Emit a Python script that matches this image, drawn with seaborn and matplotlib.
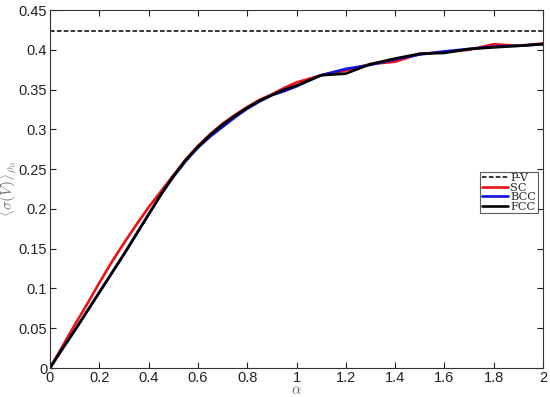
import numpy as np
import pandas as pd
import matplotlib
matplotlib.use("Agg")
import matplotlib.pyplot as plt
import seaborn as sns

alpha = [0.0, 0.05, 0.1, 0.15, 0.2, 0.25, 0.3, 0.35, 0.4, 0.45, 0.5,
         0.55, 0.6, 0.65, 0.7, 0.75, 0.8, 0.85, 0.9, 0.95, 1.0,
         1.1, 1.2, 1.3, 1.4, 1.5, 1.6, 1.7, 1.8, 1.9, 2.0]
sc = [0.0, 0.027, 0.054, 0.080, 0.107, 0.133, 0.157, 0.180, 0.202, 0.222, 0.242,
      0.262, 0.279, 0.294, 0.307, 0.318, 0.328, 0.337, 0.344, 0.352, 0.359,
      0.368, 0.374, 0.382, 0.385, 0.395, 0.397, 0.400, 0.407, 0.405, 0.408]
bcc = [0.0, 0.024, 0.047, 0.071, 0.095, 0.119, 0.143, 0.168, 0.193, 0.218, 0.240,
       0.260, 0.277, 0.291, 0.303, 0.315, 0.326, 0.335, 0.343, 0.348, 0.354,
       0.368, 0.376, 0.381, 0.388, 0.394, 0.398, 0.401, 0.404, 0.405, 0.407]
fcc = [0.0, 0.024, 0.047, 0.071, 0.095, 0.119, 0.143, 0.168, 0.193, 0.218, 0.241,
       0.261, 0.278, 0.293, 0.306, 0.317, 0.327, 0.336, 0.343, 0.350, 0.355,
       0.368, 0.370, 0.382, 0.389, 0.395, 0.396, 0.401, 0.403, 0.405, 0.407]
pv_alpha = [0.0, 2.0]
pv = [0.4236, 0.4236]

sns.set_theme(style="ticks")
plt.rcParams['font.family'] = ['Liberation Sans', 'DejaVu Sans']
plt.rcParams['mathtext.fontset'] = 'cm'

fig = plt.figure(figsize=(5.5, 3.97), dpi=100)
ax = fig.add_axes([50/550, 29/397, 493/550, 358/397])

sns.lineplot(x=pv_alpha, y=pv, ax=ax, color='black', lw=1.1, linestyle=(0, (3, 1.5)), label='P-V')
sns.lineplot(x=alpha, y=sc, ax=ax, color='#ee1111', lw=1.9, label='SC')
sns.lineplot(x=alpha, y=bcc, ax=ax, color='#1111dd', lw=1.9, label='BCC')
sns.lineplot(x=alpha, y=fcc, ax=ax, color='black', lw=1.9, label='FCC')

ax.set_xlim(0, 2)
ax.set_ylim(0, 0.45)
ax.set_xticks(np.arange(0, 2.01, 0.2))
ax.set_xticklabels(['0', '0.2', '0.4', '0.6', '0.8', '1', '1.2', '1.4', '1.6', '1.8', '2'])
ax.set_yticks(np.arange(0, 0.451, 0.05))
ax.set_yticklabels(['0', '0.05', '0.1', '0.15', '0.2', '0.25', '0.3', '0.35', '0.4', '0.45'])
ax.tick_params(direction='in', top=True, right=True, length=4, width=0.8,
               labelsize=10.5, colors='#222222', pad=2)
for s in ax.spines.values():
    s.set_linewidth(0.8)
    s.set_color('#333333')
    s.set_visible(True)

ax.set_xlabel(r'$\alpha$', fontsize=10.5, color='#666666', labelpad=-1)
ax.set_ylabel(r'$\langle\sigma(V)\rangle_{\rho_0}$', fontsize=11, color='#777777')
ax.yaxis.set_label_coords(-0.062, 0.5)

leg = ax.legend(loc='center right', bbox_to_anchor=(0.99, 0.49), frameon=True, fancybox=False,
                prop={'family': 'DejaVu Serif', 'size': 8.2}, handlelength=2.3,
                labelspacing=-0.05, handletextpad=0.2, borderpad=0.15, borderaxespad=0)
leg.get_frame().set_edgecolor('#333333')
leg.get_frame().set_linewidth(0.8)

fig.savefig('out.png', dpi=100)
